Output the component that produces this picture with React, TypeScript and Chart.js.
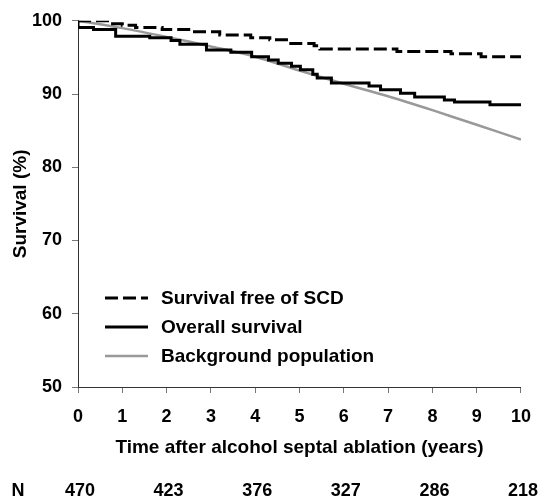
import React, { useEffect, useRef } from "react";
import { Chart, registerables } from "chart.js";

Chart.register(...registerables);

// ---- Data ----
const sfTimes = [0, 0.72, 1.0, 1.3, 1.9, 2.55, 3.2, 3.9, 4.33, 4.74, 5.33, 5.46, 7.2, 8.42, 9.1, 10];
const sfValues = [100, 99.6, 99.4, 99.1, 98.8, 98.5, 98.05, 97.7, 97.4, 96.9, 96.6, 96.15, 95.8, 95.5, 95.1, 95.1];

const osTimes = [0, 0, 0.35, 0.85, 1.62, 2.1, 2.3, 2.9, 3.45, 3.92, 4.3, 4.52, 4.82, 5.02, 5.3, 5.4, 5.72, 6.57, 6.83, 7.28, 7.6, 8.27, 8.5, 9.3, 10];
const osValues = [100, 99.1, 98.8, 97.9, 97.7, 97.3, 96.8, 96.0, 95.7, 95.1, 94.65, 94.2, 93.8, 93.3, 92.7, 92.2, 91.5, 91.1, 90.6, 90.1, 89.6, 89.2, 88.9, 88.55, 88.55];

const bgTimes = [0, 1, 2, 3, 4, 5, 6, 7, 8, 9, 10];
const bgValues = [100, 99.0, 97.8, 96.5, 95.1, 93.2, 91.4, 89.7, 87.8, 85.8, 83.8];

const seriesLabels = ["Survival free of SCD", "Overall survival", "Background population"];

const nYears = [0, 2, 4, 6, 8, 10];
const nValues = [470, 423, 376, 327, 286, 218];

const xTicksMin = 0;
const xTicksMax = 10;
const yTicksMin = 50;
const yTicksMax = 100;

const FONT = "'Liberation Sans', Arial, sans-serif";

const toPoints = (xs: number[], ys: number[]) => xs.map((x, i) => ({ x, y: ys[i] }));

const overlayPlugin = {
  id: "overlay",
  afterDraw(chart: any) {
    const { ctx, chartArea, scales } = chart;
    ctx.save();
    // Legend inside plot
    const ds = chart.data.datasets;
    ctx.font = `bold 19px ${FONT}`;
    ctx.textBaseline = "middle";
    ctx.textAlign = "left";
    for (let i = 0; i < ds.length; i++) {
      const y = 298 + i * 29;
      const x0 = chartArea.left + 27;
      const x1 = chartArea.left + 70;
      ctx.beginPath();
      ctx.strokeStyle = ds[i].borderColor;
      ctx.lineWidth = ds[i].borderWidth;
      ctx.setLineDash(ds[i].borderDash || []);
      ctx.moveTo(x0, y);
      ctx.lineTo(x1, y);
      ctx.stroke();
      ctx.setLineDash([]);
      ctx.fillStyle = "#000";
      ctx.fillText(ds[i].label, chartArea.left + 83, y + 1);
    }
    // N row
    const ny = 491;
    ctx.font = `bold 18px ${FONT}`;
    ctx.textAlign = "center";
    ctx.fillStyle = "#000";
    ctx.fillText("N", 18, ny);
    const x = scales.x;
    for (let i = 0; i < nYears.length; i++) {
      const txt = String(nValues[i]);
      const w = ctx.measureText(txt).width;
      let px = x.getPixelForValue(nYears[i]) + 2;
      px = Math.min(px, chart.width - w / 2 + 1);
      ctx.fillText(txt, px, ny);
    }
    ctx.restore();
  },
};

export default function App() {
  const ref = useRef<HTMLCanvasElement | null>(null);
  useEffect(() => {
    document.body.style.margin = "0";
    const canvas = ref.current;
    if (!canvas) return;
    const chart = new Chart(canvas, {
      type: "line",
      data: {
        datasets: [
          {
            label: seriesLabels[0],
            data: toPoints(sfTimes, sfValues),
            borderColor: "#000",
            borderWidth: 3,
            borderDash: [13, 5],
            stepped: "before",
            pointRadius: 0,
            fill: false,
          },
          {
            label: seriesLabels[1],
            data: toPoints(osTimes, osValues),
            borderColor: "#000",
            borderWidth: 3,
            stepped: "before",
            pointRadius: 0,
            fill: false,
          },
          {
            label: seriesLabels[2],
            data: toPoints(bgTimes, bgValues),
            borderColor: "#999999",
            borderWidth: 2.5,
            pointRadius: 0,
            tension: 0.3,
            fill: false,
          },
        ] as any,
      },
      options: {
        responsive: false,
        animation: false,
        layout: { padding: { top: 19.5, right: 23, left: 0, bottom: 28 } },
        plugins: { legend: { display: false }, tooltip: { enabled: false } },
        scales: {
          x: {
            type: "linear",
            min: xTicksMin,
            max: xTicksMax,
            afterFit: (s: any) => {
              s.height = 83;
            },
            grid: { drawOnChartArea: false, drawTicks: true, tickLength: 6, color: "#777" },
            border: { display: true, color: "#333", width: 1 },
            ticks: {
              stepSize: 1,
              padding: 13,
              color: "#000",
              font: { family: FONT, size: 18, weight: "bold" },
              maxRotation: 0,
            },
            title: {
              display: true,
              text: "Time after alcohol septal ablation (years)",
              color: "#000",
              font: { family: FONT, size: 19, weight: "bold" },
              padding: { top: 0, bottom: 11 },
            },
          },
          y: {
            min: yTicksMin,
            max: yTicksMax,
            afterFit: (s: any) => {
              s.width = 78;
            },
            grid: { drawOnChartArea: false, drawTicks: true, tickLength: 6, color: "#777" },
            border: { display: true, color: "#333", width: 1 },
            ticks: {
              stepSize: 10,
              padding: 10,
              color: "#000",
              font: { family: FONT, size: 18, weight: "bold" },
            },
            title: {
              display: true,
              text: "Survival (%)",
              color: "#000",
              font: { family: FONT, size: 19, weight: "bold" },
              padding: { top: 9, bottom: 0 },
            },
          },
        },
      } as any,
      plugins: [overlayPlugin],
    });
    return () => chart.destroy();
  }, []);
  return (
    <div style={{ width: 544, height: 498 }}>
      <canvas ref={ref} width={544} height={498} style={{ display: "block" }} />
    </div>
  );
}
